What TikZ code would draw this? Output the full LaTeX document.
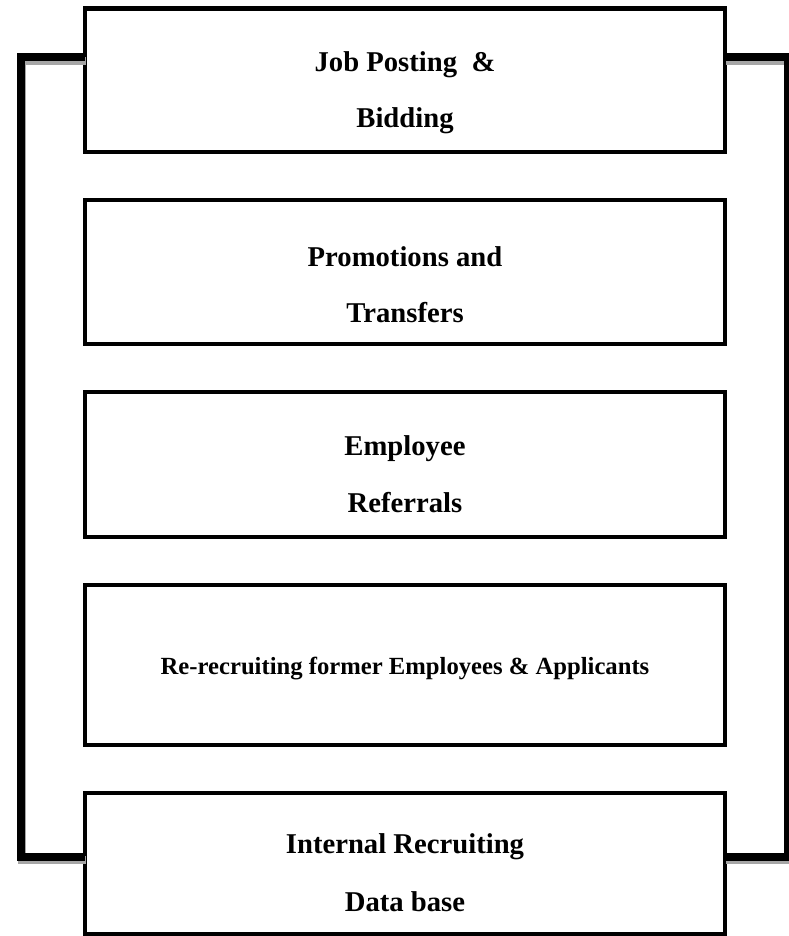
\documentclass[tikz,border=0pt]{standalone}
\usepackage{fontspec}
\setmainfont{Liberation Serif}
\usetikzlibrary{positioning}

\begin{document}
\begin{tikzpicture}[
  stage/.style={draw, line width=3.4pt, outer sep=0pt, minimum width=480pt, minimum height=#1},
  stage/.default=108pt,
  stagetext/.style={align=center, font=\fontsize{21.5}{42}\selectfont\bfseries},
  frame/.style={line width=6pt},
  node distance=36pt]
  \useasboundingbox (0,0) rectangle (591.75pt,702pt);

  % the five stages, stacked
  \node[stage=107.6pt] (post) at (303.75pt,641.8pt) {};
  \node[stage, below=of post] (promo) {};
  \node[stage=108.75pt, below=of promo] (refer) {};
  \node[stage=120pt, below=of refer] (rehire) {};
  \node[stage=105.75pt, below=of rehire] (base) {};

  \node[stagetext, yshift=-9.5pt] (post-t) at (post) {Job Posting\ \ \&\\Bidding};
  \node[stagetext, yshift=-9.5pt] (promo-t) at (promo) {Promotions and\\Transfers};
  \node[stagetext, yshift=-7.5pt, font=\fontsize{21.5}{43}\selectfont\bfseries] (refer-t) at (refer) {Employee\\Referrals};
  \node[stagetext, yshift=-3pt, font=\fontsize{18.5}{22}\selectfont\bfseries] (rehire-t) at (rehire) {Re-recruiting former Employees \& Applicants};
  \node[stagetext, yshift=-7pt, font=\fontsize{21.5}{44}\selectfont\bfseries] (base-t) at (base) {Internal Recruiting\\Data base};

  % outer bracket joining top and bottom
  \coordinate (nw) at (15.75pt,658.9pt);
  \coordinate (sw) at (15.75pt,59.6pt);
  \coordinate (ne) at (591pt,658.9pt);
  \coordinate (se) at (591pt,59.6pt);
  \coordinate (tl) at (post.west |- nw);
  \coordinate (bl) at (base.west |- sw);
  \coordinate (tr) at (post.east |- ne);
  \coordinate (br) at (base.east |- se);

  \foreach \dx/\dy/\col in {0.5pt/-2.8pt/black!35, 0pt/0pt/black} {
    \draw[frame, \col] ([shift={(\dx,\dy)}]tl) -- ([shift={(\dx,\dy)}]nw)
      -- ([shift={(\dx,\dy)}]sw) -- ([shift={(\dx,\dy)}]bl);
    \draw[frame, \col] ([shift={(\dx,\dy)}]tr) -- ([shift={(\dx,\dy)}]ne)
      -- ([shift={(\dx,\dy)}]se) -- ([shift={(\dx,\dy)}]br);
  }
\end{tikzpicture}
\end{document}
